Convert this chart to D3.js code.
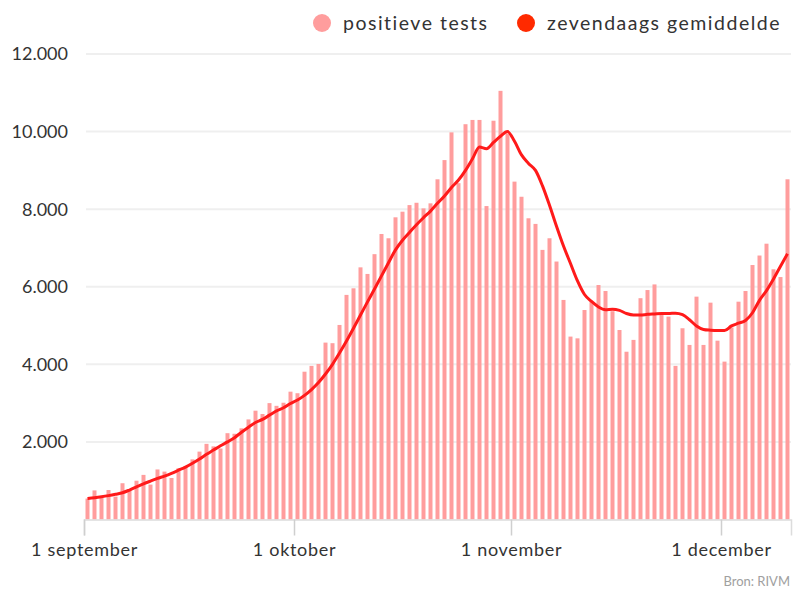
<!DOCTYPE html>
<html>
<head>
<meta charset="utf-8">
<script src="https://cdn.jsdelivr.net/npm/d3@7"></script>
<style>
    body { margin: 0; background: #fff; }
    svg { display: block; font-family: Lato, "Open Sans", sans-serif; }
    .gridLines { stroke: #efefef; stroke-width: 2; }
    .yLabels { fill: #333; font-size: 18px; }
    .xLabels { fill: #333; font-size: 18px; letter-spacing: 0.7px; }
    .legendText { fill: #333; font-size: 19.5px; letter-spacing: 1.5px; }
    .bron { fill: #a0a0a0; font-size: 13px; }
</style>
</head>
<body>
<script>
(function () {

    //first day of the series, one bar per day
    var startDate = "2020-09-01";

    //positive tests per day
    var positieveTests = [
        540, 750, 560, 760, 590, 935, 750, 1000, 1150, 900,
        1290, 1235, 1070, 1320, 1380, 1550, 1750, 1950, 1885, 1830,
        2225, 2210, 2350, 2580, 2805, 2720, 3000, 2930, 3010, 3295,
        3255, 3810, 3960, 4010, 4560, 4545, 5015, 5790, 5960, 6500,
        6330, 6840, 7360, 7250, 7790, 7935, 8105, 8165, 8020, 8150,
        8770, 9265, 9980, 8670, 10190, 10300, 10300, 8080, 10280, 11050,
        9950, 8710, 8320, 7765, 7620, 6950, 7250, 6650, 5660, 4715,
        4670, 5400, 5615, 6045, 5890, 5370, 4885, 4325, 4630, 5705,
        5915, 6060, 5300, 5230, 3960, 4930, 4500, 5745, 4500, 5590,
        4610, 4070, 4950, 5615, 5890, 6560, 6805, 7110, 6450, 6250,
        8770
    ];

    //seven day average
    var zevendaagsGemiddelde = [
        540, 560, 585, 615, 650, 690, 760, 840, 920, 990,
        1060, 1120, 1190, 1270, 1350, 1450, 1560, 1680, 1790, 1900,
        2000, 2110, 2250, 2380, 2500, 2580, 2690, 2800, 2880, 2990,
        3080, 3200, 3350, 3530, 3750, 4000, 4290, 4600, 4930, 5270,
        5610, 5940, 6280, 6620, 6950, 7200, 7400, 7600, 7780, 7950,
        8150, 8340, 8560, 8750, 9000, 9300, 9600, 9560, 9720, 9880,
        10000, 9750, 9400, 9180, 9000, 8600, 8100, 7560, 7050, 6600,
        6150, 5800, 5620, 5480, 5410, 5420, 5390, 5310, 5270, 5270,
        5290, 5300, 5310, 5310, 5320, 5280, 5150, 4990, 4900, 4880,
        4870, 4870, 4990, 5060, 5130, 5330, 5650, 5900, 6200, 6530,
        6850
    ];

    var yTicks = [2000, 4000, 6000, 8000, 10000, 12000];
    var xTickDates = ["2020-09-01", "2020-10-01", "2020-11-01", "2020-12-01"];
    var xTickLabels = ["1 september", "1 oktober", "1 november", "1 december"];

    var width = 793,
        height = 598;

    var parseDate = d3.timeParse("%Y-%m-%d");
    var start = parseDate(startDate);
    var dates = positieveTests.map(function (v, i) {
        return d3.timeDay.offset(start, i);
    });

    //dutch number format, 12.000
    var nl = d3.formatLocale({ decimal: ",", thousands: ".", grouping: [3], currency: ["€ ", ""] });
    var fmt = nl.format(",");

    var svg = d3.select("body")
        .append("svg")
        .attr("width", width)
        .attr("height", height);

    var x = d3.scaleTime()
        .domain([start, d3.timeDay.offset(start, dates.length)])
        .range([84, 791]);

    var y = d3.scaleLinear()
        .domain([0, 12000])
        .range([519.5, 54]);

    var dayWidth = x(dates[1]) - x(dates[0]);

    //horizontal grid lines
    svg.selectAll(".gridLines")
        .data(yTicks)
        .enter()
        .append("line")
        .attr("class", "gridLines")
        .attr("x1", 86)
        .attr("x2", 791)
        .attr("y1", function (d) { return y(d); })
        .attr("y2", function (d) { return y(d); });

    svg.selectAll(".yLabels")
        .data(yTicks)
        .enter()
        .append("text")
        .attr("class", "yLabels")
        .attr("x", 68)
        .attr("y", function (d) { return y(d); })
        .attr("dy", "0.36em")
        .attr("text-anchor", "end")
        .text(function (d) { return fmt(d); });

    //bars
    svg.selectAll(".bars")
        .data(positieveTests)
        .enter()
        .append("rect")
        .attr("class", "bars")
        .attr("x", function (d, i) { return x(dates[i]) + 1.5; })
        .attr("width", dayWidth - 3)
        .attr("y", function (d) { return y(d); })
        .attr("height", function (d) { return y(0) - y(d); })
        .style("fill", "#ff9d9d");

    //x axis
    var xAxis = d3.axisBottom(x)
        .tickValues(xTickDates.map(parseDate))
        .tickSize(16)
        .tickFormat(function (d, i) { return xTickLabels[i]; });

    var axisG = svg.append("g")
        .attr("transform", "translate(0," + y(0) + ")")
        .call(xAxis)
        .attr("font-family", null)
        .attr("font-size", null);
    axisG.select(".domain").attr("stroke", "#dcdcdc").attr("stroke-width", 1.5);
    axisG.selectAll(".tick line").attr("stroke", "#cfcfcf").attr("stroke-width", 1.5);
    axisG.selectAll(".tick text")
        .attr("class", "xLabels")
        .attr("y", 24)
        .attr("dy", "0.71em");

    //seven day average line
    var line = d3.line()
        .x(function (d, i) { return x(dates[i]) + dayWidth / 2; })
        .y(function (d) { return y(d); })
        .curve(d3.curveMonotoneX);

    svg.append("path")
        .datum(zevendaagsGemiddelde)
        .attr("fill", "none")
        .attr("stroke", "#ff1a1a")
        .attr("stroke-width", 3)
        .attr("stroke-linejoin", "round")
        .attr("d", line);

    //legend
    var legend = [
        { label: "positieve tests", color: "#ff9d9d", cx: 322 },
        { label: "zevendaags gemiddelde", color: "#ff2a00", cx: 526 }
    ];
    var items = svg.selectAll(".legend")
        .data(legend)
        .enter()
        .append("g")
        .attr("class", "legend");
    items.append("circle")
        .attr("cx", function (d) { return d.cx; })
        .attr("cy", 23)
        .attr("r", 9)
        .style("fill", function (d) { return d.color; });
    items.append("text")
        .attr("class", "legendText")
        .attr("x", function (d) { return d.cx + 21; })
        .attr("y", 23)
        .attr("dy", "0.35em")
        .text(function (d) { return d.label; });

    svg.append("text")
        .attr("class", "bron")
        .attr("x", 790)
        .attr("y", 586)
        .attr("text-anchor", "end")
        .text("Bron: RIVM");
})();
</script>
</body>
</html>
